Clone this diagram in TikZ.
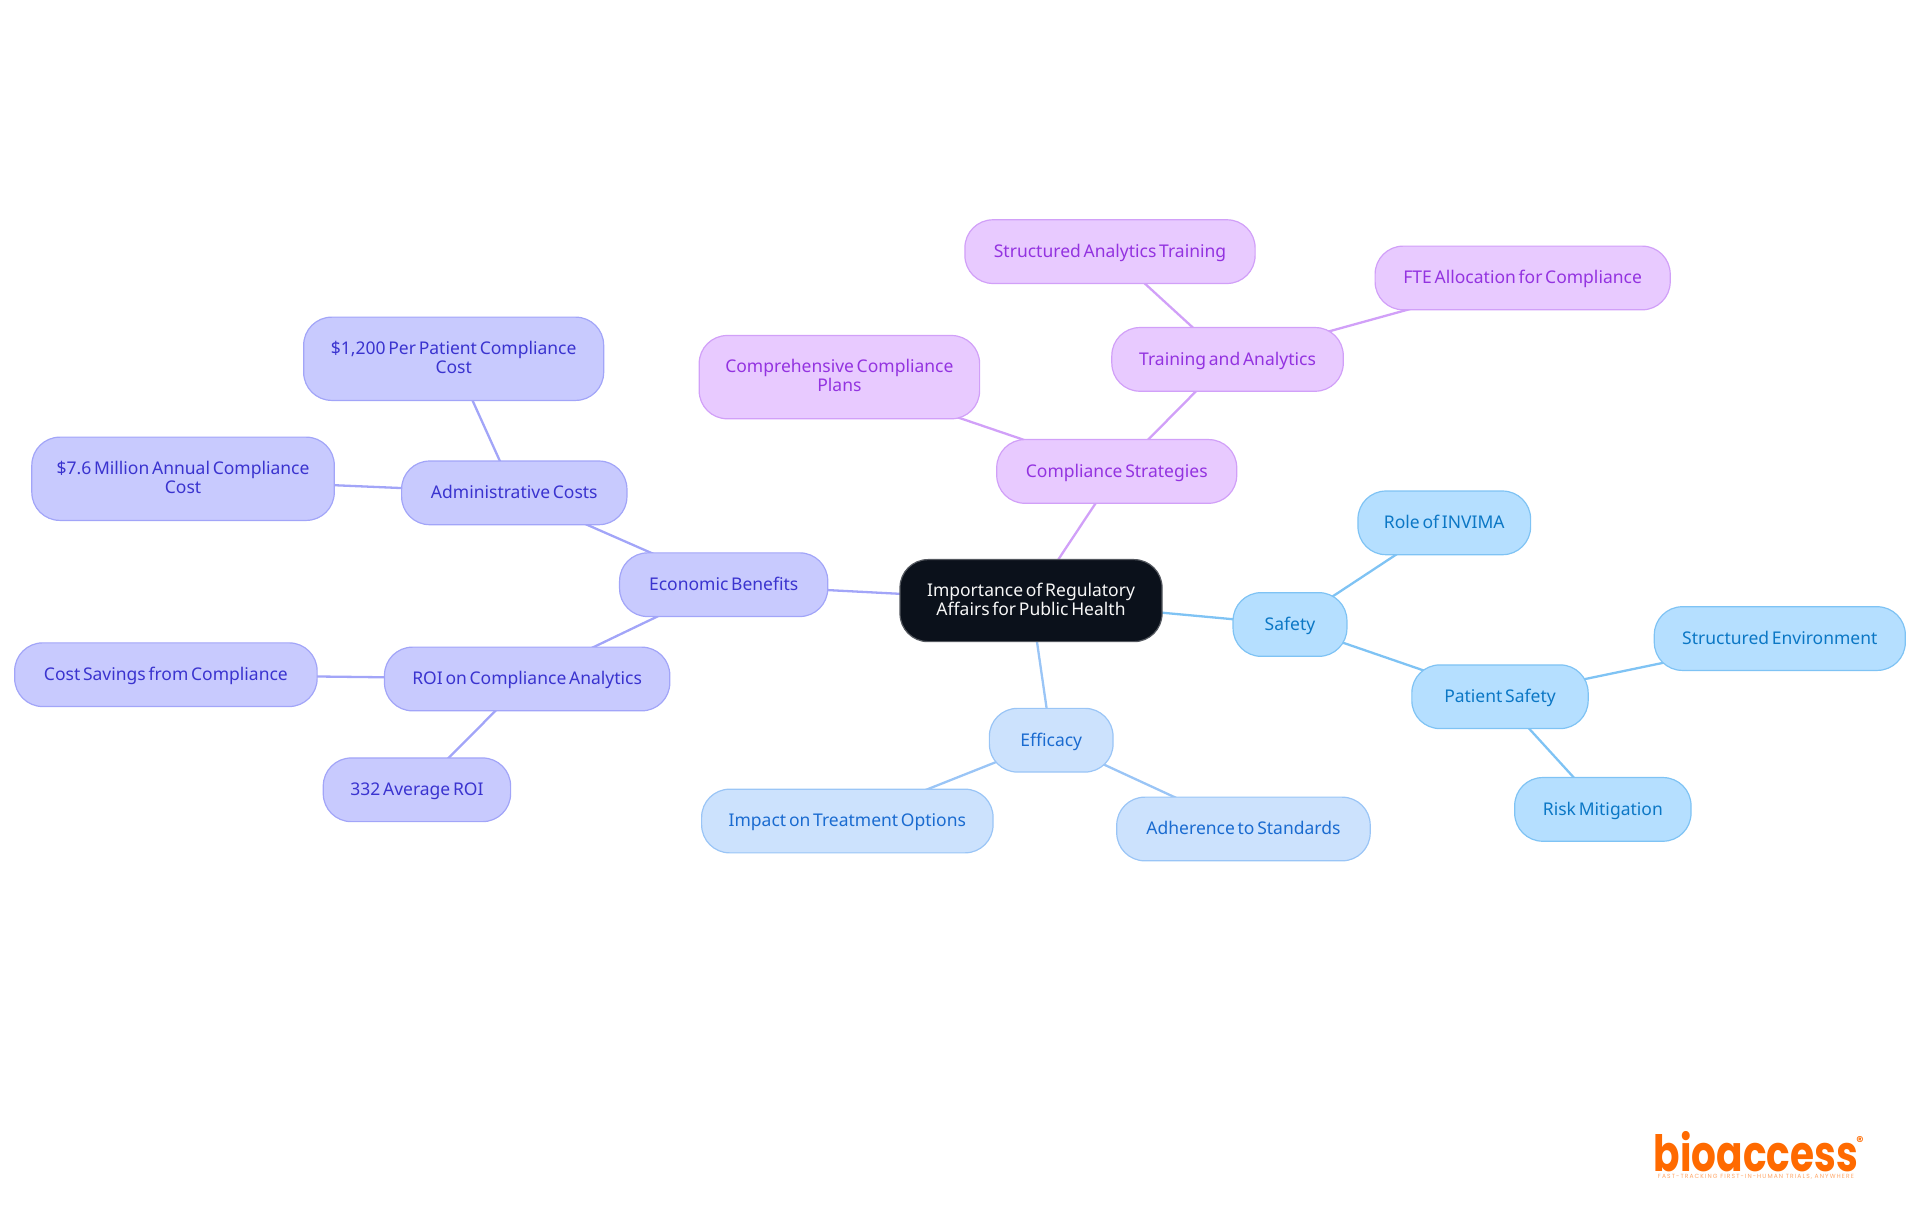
\documentclass[tikz,border=0pt]{standalone}
\usepackage{fontspec}
\setmainfont[WordSpace=0.6]{Noto Sans}
\newfontfamily\logofont{Poppins}
\newfontfamily\tagfont[LetterSpace=18]{Poppins}
\usetikzlibrary{backgrounds}
\definecolor{rootfill}{HTML}{0B111B}
\definecolor{sfill}{HTML}{B5DFFF}\definecolor{sline}{HTML}{7FC3F4}\definecolor{stext}{HTML}{0B77C5}
\definecolor{efill}{HTML}{CCE2FD}\definecolor{eline}{HTML}{9AC5F6}\definecolor{etext}{HTML}{1A6BD0}
\definecolor{bfill}{HTML}{C8CAFE}\definecolor{bline}{HTML}{A2A5F8}\definecolor{btext}{HTML}{3A33CF}
\definecolor{cfill}{HTML}{E8CAFF}\definecolor{cline}{HTML}{D1A0F8}\definecolor{ctext}{HTML}{9333E0}
\definecolor{logoorange}{HTML}{FF6A00}
\tikzset{
  sz/.style 2 args={minimum width={#1*1.2245pt},minimum height={#2*1.2245pt}},
  mm/.style={rounded corners=28pt,inner sep=0pt,outer sep=0pt,line width=1.2pt,align=center,
    text height=14pt,text depth=2.4pt,font=\fontsize{17.5}{18.9}\selectfont},
  twolines/.style={text height=,text depth=3pt},
  rootbox/.style={mm,twolines,fill=rootfill,draw=rootfill!70!white,text=white!97!black},
  sbox/.style={mm,fill=sfill,draw=sline,text=stext},
  ebox/.style={mm,fill=efill,draw=eline,text=etext},
  bbox/.style={mm,fill=bfill,draw=bline,text=btext},
  cbox/.style={mm,fill=cfill,draw=cline,text=ctext},
  link/.style={line width=2.3pt},
}
\begin{document}
\begin{tikzpicture}[x=1.2245pt,y=-1.2245pt]
\useasboundingbox (0,0) rectangle (1568,992.2);
\node[rootbox,sz={214}{67}] (root) at (842,490.5) {Importance of Regulatory\\Affairs for Public Health};
\node[sbox,sz={93}{52}] (safety) at (1053.5,510) {Safety};
\node[sbox,sz={141}{52}] (invima) at (1179.5,427) {Role of INVIMA};
\node[sbox,sz={144}{52}] (patient) at (1225,569) {Patient Safety};
\node[sbox,sz={205}{52}] (envir) at (1453.5,521.5) {Structured Environment};
\node[sbox,sz={144}{52}] (risk) at (1309,661) {Risk Mitigation};
\node[ebox,sz={101}{52}] (efficacy) at (858.5,604.5) {Efficacy};
\node[ebox,sz={238}{52}] (impact) at (692,670.5) {Impact on Treatment Options};
\node[ebox,sz={207}{52}] (adher) at (1015.5,677) {Adherence to Standards};
\node[bbox,sz={170}{52}] (econ) at (591,477.5) {Economic Benefits};
\node[bbox,sz={184}{52}] (admin) at (420,402.5) {Administrative Costs};
\node[bbox,twolines,sz={245}{68}] (perpat) at (370.5,293) {\$1,200 Per Patient Compliance\\Cost};
\node[bbox,twolines,sz={247}{68}] (annual) at (149.5,391) {\$7.6 Million Annual Compliance\\Cost};
\node[bbox,sz={233}{52}] (roi) at (430.5,554.5) {ROI on Compliance Analytics};
\node[bbox,sz={247}{52}] (saving) at (135.5,551) {Cost Savings from Compliance};
\node[bbox,sz={153}{52}] (avg) at (340.5,645) {332 Average ROI};
\node[cbox,sz={196}{52}] (comp) at (912,385) {Compliance Strategies};
\node[cbox,twolines,sz={229}{68}] (plans) at (685.5,308) {Comprehensive Compliance\\Plans};
\node[cbox,sz={189}{52}] (train) at (1002.5,293.5) {Training and Analytics};
\node[cbox,sz={237}{52}] (sat) at (906.5,205.5) {Structured Analytics Training};
\node[cbox,sz={241}{52}] (fte) at (1243.5,227) {FTE Allocation for Compliance};
\begin{scope}[on background layer]
\draw[link,sline] (root.center)--(safety.center);
\draw[link,sline] (safety.center)--(invima.center);
\draw[link,sline] (safety.center)--(patient.center);
\draw[link,sline] (patient.center)--(envir.center);
\draw[link,sline] (patient.center)--(risk.center);
\draw[link,eline] (root.center)--(efficacy.center);
\draw[link,eline] (efficacy.center)--(impact.center);
\draw[link,eline] (efficacy.center)--(adher.center);
\draw[link,bline] (root.center)--(econ.center);
\draw[link,bline] (econ.center)--(admin.center);
\draw[link,bline] (admin.center)--(perpat.center);
\draw[link,bline] (admin.center)--(annual.center);
\draw[link,bline] (econ.center)--(roi.center);
\draw[link,bline] (roi.center)--(saving.center);
\draw[link,bline] (roi.center)--(avg.center);
\draw[link,cline] (root.center)--(comp.center);
\draw[link,cline] (comp.center)--(plans.center);
\draw[link,cline] (comp.center)--(train.center);
\draw[link,cline] (train.center)--(sat.center);
\draw[link,cline] (train.center)--(fte.center);
\end{scope}
\node[inner sep=0pt,anchor=base,text=logoorange,font=\logofont\bfseries\fontsize{50}{50}\selectfont] (logo) at (1434,957) {\scalebox{0.78}[1]{bioaccess}};
\node[inner sep=0pt,text=logoorange,font=\logofont\bfseries\fontsize{14}{14}\selectfont] (reg) at (1519,932) {®};
\node[inner sep=0pt,text=logoorange!60!white,font=\tagfont\fontsize{6}{6}\selectfont] (tag) at (1434,961) {FAST-TRACKING FIRST-IN-HUMAN TRIALS, ANYWHERE};
\end{tikzpicture}
\end{document}
